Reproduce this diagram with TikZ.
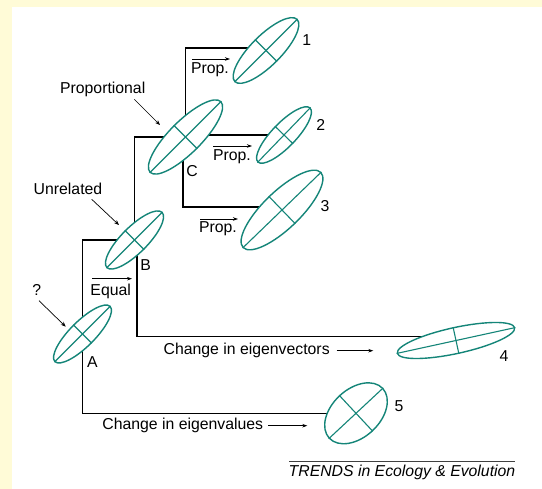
\documentclass[tikz,border=0pt]{standalone}
\usepackage{fontspec}
\setmainfont{Liberation Sans}
\usetikzlibrary{shapes.geometric,arrows.meta,backgrounds}
\definecolor{tealx}{RGB}{20,133,120}
\definecolor{cream}{RGB}{255,251,215}
\begin{document}
\begin{tikzpicture}[x=1pt,y=-1pt,
  ell/.style={ellipse,draw=tealx,line width=1.4pt,fill=white,inner sep=0pt},
  axis/.style={draw=tealx,line width=1.1pt},
  tree/.style={draw=black,line width=1.4pt},
  lbl/.style={inner sep=0pt,font=\fontsize{15.8}{18}\selectfont},
  ptr/.style={line width=0.7pt,-{Stealth[length=5pt,width=4pt]}},
  sptr/.style={line width=0.7pt,-{Stealth[length=5pt,width=3.5pt]}},
]
\useasboundingbox (0,0) rectangle (542,489);

% ellipses
\node[ell,minimum width=78pt,minimum height=25pt,rotate=45] (A) at (82.5,334) {};
\node[ell,minimum width=78pt,minimum height=26pt,rotate=45] (B) at (134.5,240) {};
\node[ell,minimum width=100pt,minimum height=32pt,rotate=45] (C) at (185.5,137) {};
\node[ell,minimum width=88pt,minimum height=30pt,rotate=45] (E1) at (266,50.5) {};
\node[ell,minimum width=75pt,minimum height=24pt,rotate=46] (E2) at (284,135) {};
\node[ell,minimum width=108pt,minimum height=37pt,rotate=44] (E3) at (282,210) {};
\node[ell,minimum width=120pt,minimum height=26pt,rotate=12.3] (E4) at (456,340.5) {};
\node[ell,minimum width=73pt,minimum height=48pt,rotate=43] (E5) at (356,413.3) {};
\foreach \e in {A,B,C,E1,E2,E3,E4,E5}{
  \draw[axis] (\e.west) -- (\e.east);
  \draw[axis] (\e.north) -- (\e.south);
}

% background and tree lines
\begin{pgfonlayer}{background}
  \fill[cream] (0,0) rectangle (542,489);
  \fill[white] (12,7) rectangle (542,489);
  \draw[tree] (A.center) |- (B.center);
  \draw[tree] (B.center) |- (C.center);
  \draw[tree] (C.center) |- ([yshift=2.5pt]E1.center);
  \draw[tree] (C.center |- E2.center) -- (E2.center);
  \draw[tree] ([xshift=-2.5pt]C.center) |- ([yshift=3pt]E3.center);
  \draw[tree] ([xshift=2.5pt]B.center) |- ([yshift=4pt]E4.center);
  \draw[tree] (A.center) |- (E5.center);
\end{pgfonlayer}

% labels
\node[lbl] (la) at (92.3,361.7) {A};
\node[lbl] (lb) at (145.7,265) {B};
\node[lbl] (lc) at (192,171) {C};
\node[lbl] (q) at (36.7,290) {?};
\node[lbl] (unrel) at (68,189) {Unrelated};
\node[lbl] (propl) at (102.7,89) {Proportional};
\node[lbl] (equal) at (110.7,291.7) {Equal};
\node[lbl] (p1) at (210,70) {Prop.};
\node[lbl] (p2) at (232,157) {Prop.};
\node[lbl] (p3) at (218,229) {Prop.};
\node[lbl] (cvec) at (246.7,350.7) {Change in eigenvectors};
\node[lbl] (cval) at (182.8,425.7) {Change in eigenvalues};
\node[lbl] (n1) at (306.7,40) {1};
\node[lbl] (n2) at (320.7,125) {2};
\node[lbl] (n3) at (325,205.7) {3};
\node[lbl] (n4) at (504,356) {4};
\node[lbl] (n5) at (399,406) {5};
\node[lbl,font=\fontsize{15.8}{18}\selectfont\itshape] (trends) at (402,472.7) {TRENDS in Ecology \& Evolution};

% pointer arrows
\coordinate (pa1) at (134.3,99.3); \coordinate (pa2) at (160,125);
\coordinate (ua1) at (91.7,199.3); \coordinate (ua2) at (119,225);
\coordinate (qa1) at (39,300.7);   \coordinate (qa2) at (65.7,326.7);
\draw[ptr] (pa1) -- (pa2);
\draw[ptr] (ua1) -- (ua2);
\draw[ptr] (qa1) -- (qa2);

% direction arrows
\coordinate (ea1) at (92,278.7);   \coordinate (ea2) at (132,278.7);
\coordinate (r1a) at (192,59);     \coordinate (r1b) at (230,59);
\coordinate (r2a) at (213,146);    \coordinate (r2b) at (252,146);
\coordinate (r3a) at (200,219);    \coordinate (r3b) at (238,219);
\coordinate (va1) at (336.7,350.7); \coordinate (va2) at (373.3,350.7);
\coordinate (la1) at (268.3,425.7); \coordinate (la2) at (307.3,425.7);
\draw[sptr] (ea1) -- (ea2);
\draw[sptr] (r1a) -- (r1b);
\draw[sptr] (r2a) -- (r2b);
\draw[sptr] (r3a) -- (r3b);
\draw[sptr] (va1) -- (va2);
\draw[sptr] (la1) -- (la2);

% source rule
\coordinate (t1) at (289.3,461.7); \coordinate (t2) at (515,461.7);
\draw[line width=0.8pt,black!75] (t1) -- (t2);
\end{tikzpicture}
\end{document}
